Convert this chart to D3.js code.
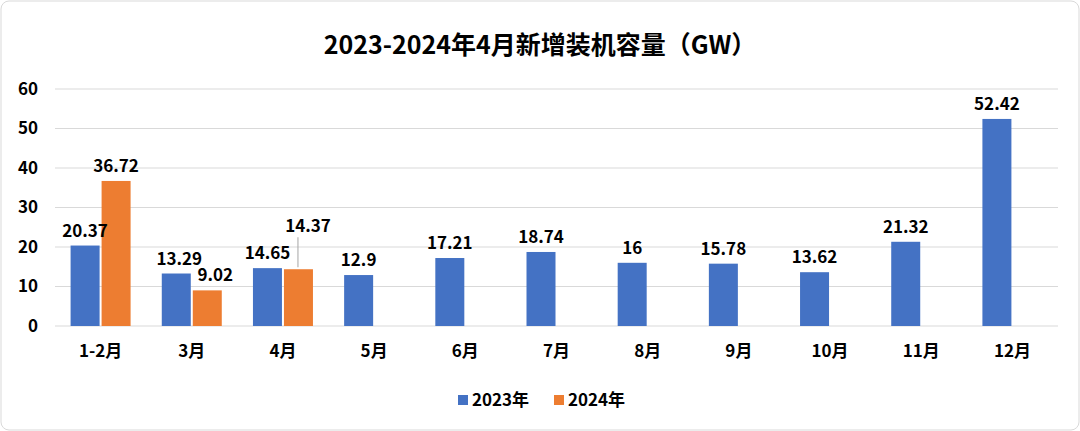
<!DOCTYPE html>
<html><head><meta charset="utf-8">
<script src="https://cdn.jsdelivr.net/npm/d3@7"></script>
<style>body{margin:0;background:#fff;font-family:"Noto Sans CJK SC","Noto Sans",sans-serif;}</style>
</head><body><div id="chart"></div>
<script>
const categories = ["1-2月","3月","4月","5月","6月","7月","8月","9月","10月","11月","12月"];
const values2023 = [20.37,13.29,14.65,12.9,17.21,18.74,16,15.78,13.62,21.32,52.42];
const values2024 = [36.72,9.02,14.37];
const yTicks = [0,10,20,30,40,50,60];
const seriesNames = ["2023年","2024年"];
const colors = ["#4472c4","#ed7d31"];

const W = 1080, H = 431;
const svg = d3.select("#chart").append("svg").attr("width", W).attr("height", H);
svg.append("rect").attr("x",1).attr("y",1).attr("width",W-2).attr("height",H-2)
  .attr("rx",8).attr("fill","#fff").attr("stroke","#d9d9d9");

svg.append("text").attr("x",W/2).attr("y",54).attr("text-anchor","middle")
  .attr("font-size",25).attr("font-weight","bold").attr("fill","#000")
  .text("2023-2024年4月新增装机容量（GW）");

const x = d3.scaleBand().domain(categories).range([55,1058]);
const y = d3.scaleLinear().domain([0,60]).range([326,89]);
const bw = 29;

// gridlines
svg.append("g").selectAll("line").data(yTicks).join("line")
  .attr("x1",55).attr("x2",1058).attr("y1",d=>y(d)).attr("y2",d=>y(d))
  .attr("stroke","#d9d9d9");

const yAxis = svg.append("g").attr("transform","translate(40,0)")
  .call(d3.axisLeft(y).tickValues(yTicks).tickSize(0));
yAxis.select(".domain").remove();
yAxis.selectAll("text").attr("font-size",17).attr("font-weight","bold").attr("fill","#000")
  .attr("font-family","Noto Sans CJK SC").attr("x",-2);

const xAxis = svg.append("g").attr("transform","translate(0,342)")
  .call(d3.axisBottom(x).tickSize(0));
xAxis.select(".domain").remove();
xAxis.selectAll("text").attr("font-size",17).attr("font-weight","bold").attr("fill","#000")
  .attr("font-family","Noto Sans CJK SC");

const cx = d => x(d) + x.bandwidth()/2;
const fmt = v => String(v);

svg.append("g").selectAll("rect").data(values2023).join("rect")
  .attr("x",(d,i)=>cx(categories[i]) - bw - 1).attr("width",bw)
  .attr("y",d=>y(d)).attr("height",d=>y(0)-y(d)).attr("fill",colors[0]);
svg.append("g").selectAll("rect").data(values2024).join("rect")
  .attr("x",(d,i)=>cx(categories[i]) + 1).attr("width",bw)
  .attr("y",d=>y(d)).attr("height",d=>y(0)-y(d)).attr("fill",colors[1]);

const lbl = svg.append("g").attr("font-size",17).attr("font-weight","bold")
  .attr("text-anchor","middle").attr("fill","#000");
values2023.forEach((v,i)=>{
  lbl.append("text").attr("x",cx(categories[i]) - bw/2 - 1 + (i===1?3:0)).attr("y",y(v)-9).text(fmt(v));
});
values2024.forEach((v,i)=>{
  let lx = cx(categories[i]) + bw/2 + 1, ly = y(v)-9;
  if (i===1) lx += 8;
  if (i===2) { lx = cx(categories[i]) + 25; ly = y(v)-37;
    svg.append("line").attr("x1",cx(categories[i])+15).attr("x2",cx(categories[i])+15)
      .attr("y1",y(v)-2).attr("y2",ly+5).attr("stroke","#a6a6a6");
  }
  lbl.append("text").attr("x",lx).attr("y",ly).text(fmt(v));
});

const lg = svg.append("g").attr("transform","translate(458,406)");
seriesNames.forEach((n,i)=>{
  const g = lg.append("g").attr("transform",`translate(${i*96},0)`);
  g.append("rect").attr("x",0).attr("y",-11).attr("width",10).attr("height",10).attr("fill",colors[i]);
  g.append("text").attr("x",14).attr("y",0).attr("font-size",17).attr("font-weight","bold").text(n);
});
</script></body></html>
